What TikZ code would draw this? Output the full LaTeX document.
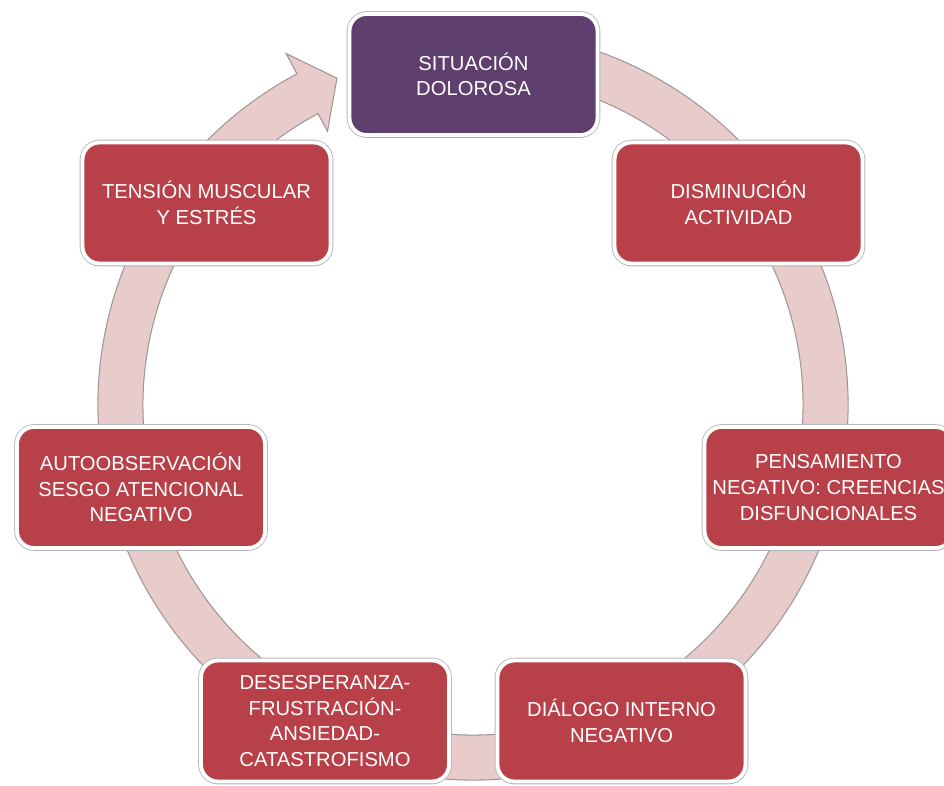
\documentclass[tikz,border=0pt]{standalone}
\usepackage{fontspec}
\setmainfont{Liberation Sans}
\usepackage{tikz}
\usetikzlibrary{calc, shadows}
\usepackage{xcolor}

\definecolor{boxred}{RGB}{184,64,72}
\definecolor{boxpurple}{RGB}{94,63,110}
\definecolor{ringfill}{RGB}{232,204,204}
\definecolor{ringline}{RGB}{160,150,150}

\begin{document}
\begin{tikzpicture}[font=\fontsize{11.5}{14.6}\selectfont]
  \tikzstyle{every box}=[rectangle, rounded corners=0.34cm, align=center,
    text=white, minimum width=4.96cm, minimum height=2.42cm,
    draw=white, line width=2.2pt,
    preaction={draw=gray!55, line width=3.2pt},
    drop shadow={shadow xshift=0pt, shadow yshift=-1.5pt, opacity=0.2}]
  \tikzstyle{step box}=[every box, fill=boxred]
  \tikzstyle{start box}=[every box, fill=boxpurple]

  \useasboundingbox (0,0) rectangle (18.88,15.7);

  % cycle arrow behind the boxes
  \coordinate (c) at (9.46,7.6);
  \filldraw[fill=ringfill, draw=ringline, line width=0.6pt]
  ($(c)+(75:7.5)$) arc[start angle=75, end angle=-242, radius=7.5]
  -- ($(c)+(-242:7.96)$)
  -- ($(c)+(-247.4:7.08)$)
  -- ($(c)+(-242:6.2)$)
  -- ($(c)+(-242:6.6)$) arc[start angle=-242, end angle=75, radius=6.6]
  -- cycle;

  \node[start box] (p_0) at (9.47,14.21) {SITUACIÓN\\DOLOROSA};
  \node[step box]  (p_1) at (14.77,11.64) {DISMINUCIÓN\\ACTIVIDAD};
  \node[step box]  (p_2) at (16.57,5.95) {PENSAMIENTO\\NEGATIVO: CREENCIAS\\DISFUNCIONALES};
  \node[step box]  (p_3) at (12.43,1.28) {DIÁLOGO INTERNO\\NEGATIVO};
  \node[step box]  (p_4) at (6.5,1.28) {DESESPERANZA-\\FRUSTRACIÓN-\\ANSIEDAD-\\CATASTROFISMO};
  \node[step box]  (p_5) at (2.82,5.95) {AUTOOBSERVACIÓN\\SESGO ATENCIONAL\\NEGATIVO};
  \node[step box]  (p_6) at (4.13,11.64) {TENSIÓN MUSCULAR\\Y ESTRÉS};
\end{tikzpicture}
\end{document}
